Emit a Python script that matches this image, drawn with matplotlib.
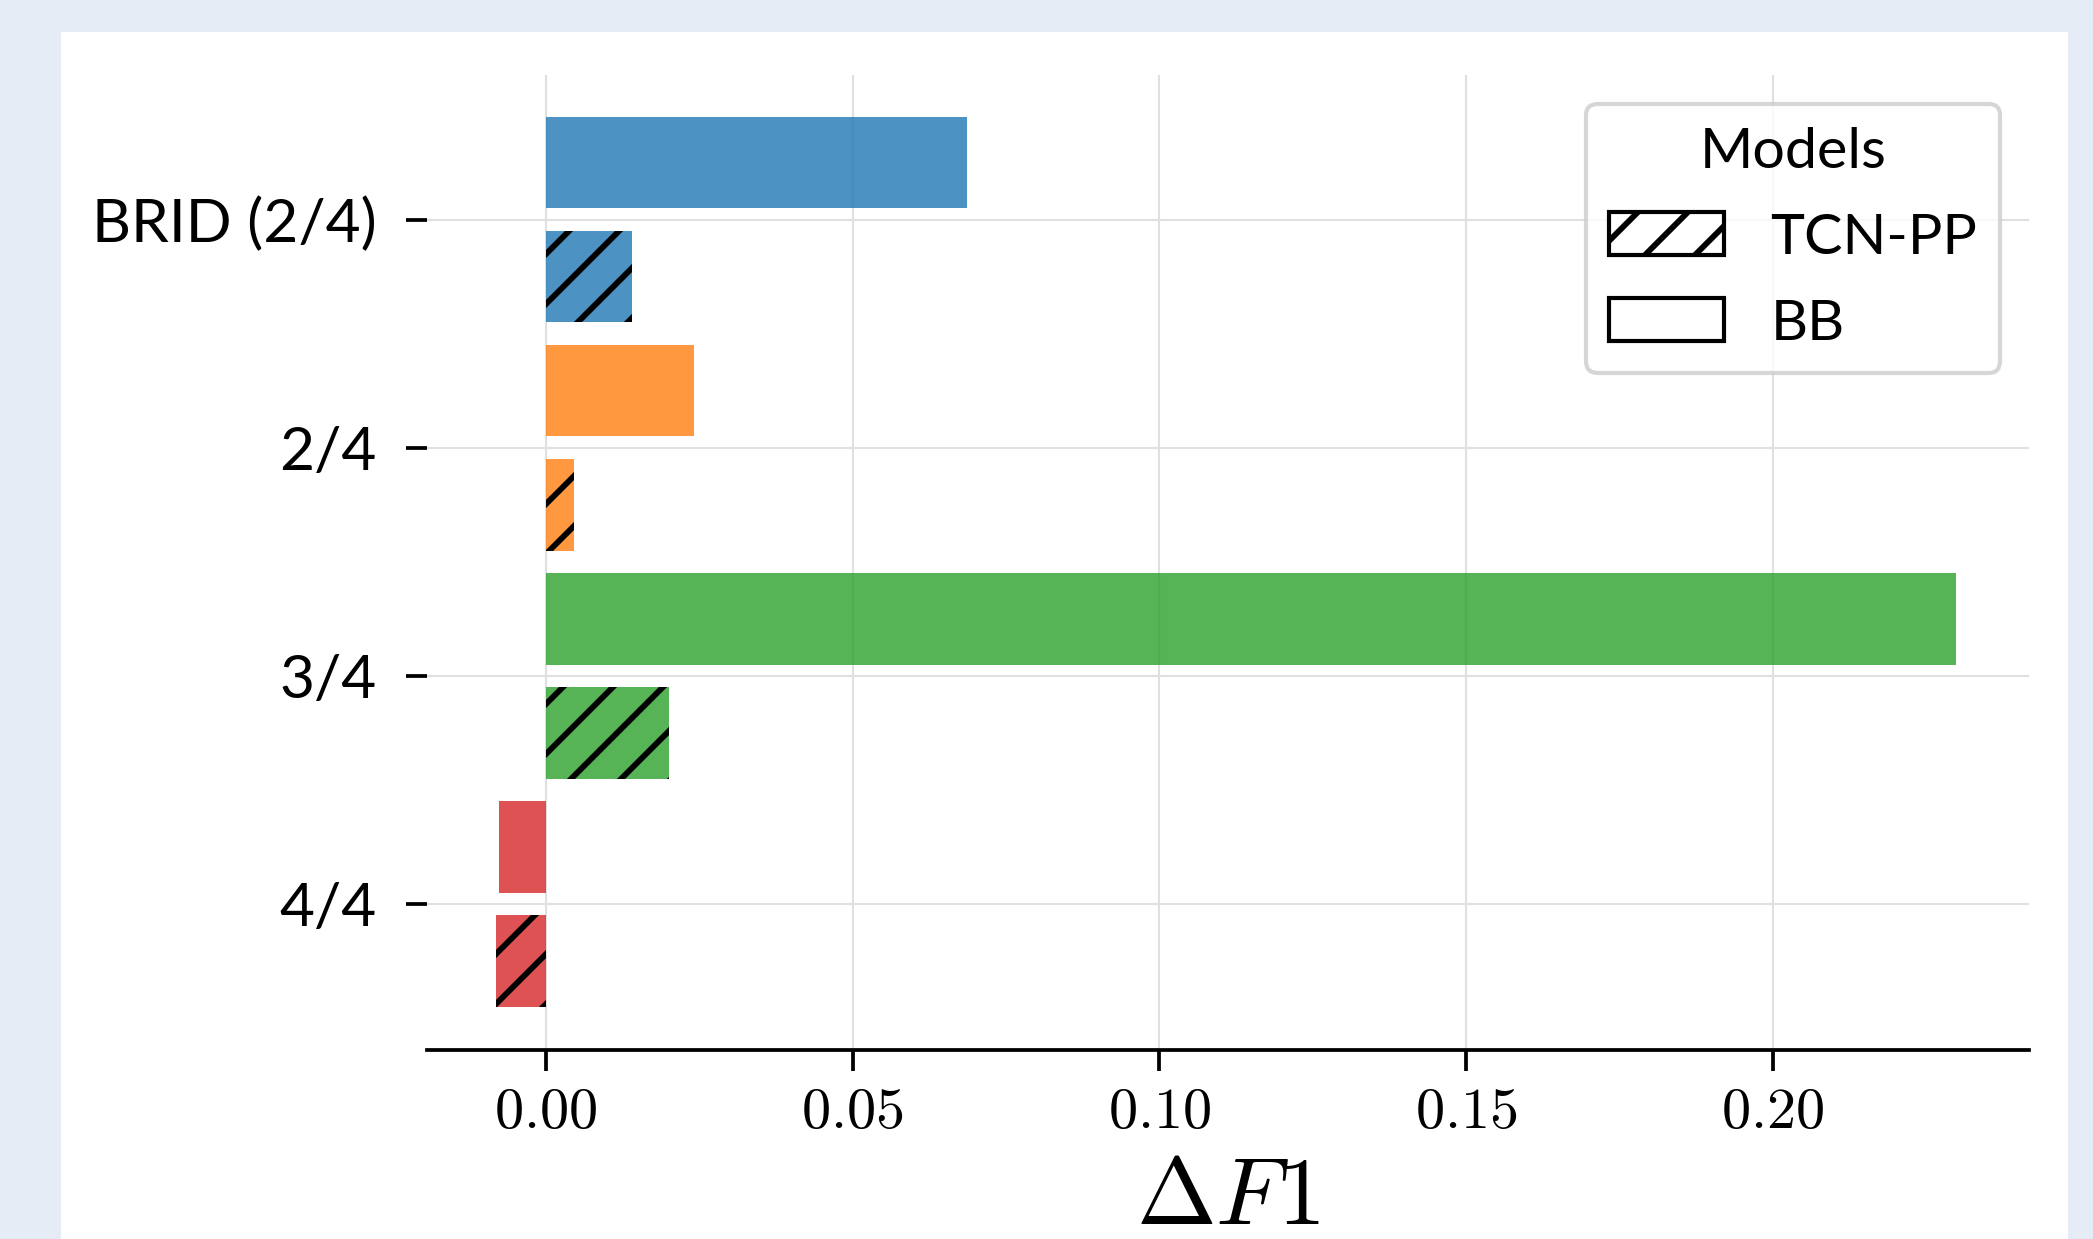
import matplotlib
matplotlib.use("Agg")
import matplotlib.pyplot as plt
from matplotlib.colors import to_rgba
from matplotlib.patches import Patch, Rectangle
from matplotlib.ticker import FormatStrFormatter
import numpy as np

# data
groups = ["BRID (2/4)", "2/4", "3/4", "4/4"]
bb_delta = [0.0686, 0.0241, 0.2299, -0.0076]
tcn_delta = [0.0140, 0.0045, 0.0200, -0.0082]
group_colors = ["tab:blue", "tab:orange", "tab:green", "tab:red"]
xticks = [0.00, 0.05, 0.10, 0.15, 0.20]

plt.rcParams["mathtext.fontset"] = "cm"
plt.rcParams["font.family"] = ["Lato", "DejaVu Sans"]
plt.rcParams["hatch.linewidth"] = 1.4

DPI = 300
fig = plt.figure(figsize=(2093 / DPI, 1239 / DPI), dpi=DPI, facecolor="#e5ecf6")
# white panel behind the plot
fig.patches.append(Rectangle((61 / 2093, 0), (2068 - 61) / 2093, 1 - 32 / 1239,
                             transform=fig.transFigure, facecolor="white",
                             edgecolor="none", zorder=-10))

ax = fig.add_axes([427 / 2093, 1 - 1050 / 1239, (2029 - 427) / 2093, (1050 - 75) / 1239])
ax.set_facecolor("none")

y = np.arange(len(groups))
h = 0.4
for i, c in enumerate(group_colors):
    face = to_rgba(c, 0.8)
    ax.barh(y[i] - 0.25, bb_delta[i], height=h, color=face, edgecolor="none", zorder=2)
    ax.barh(y[i] + 0.25, tcn_delta[i], height=h, facecolor=face, edgecolor="black",
            linewidth=0, hatch="//", zorder=2)

ax.set_ylim(3.64, -0.635)
ax.set_xlim(-0.0194, 0.2418)
ax.set_yticks(y)
ax.set_yticklabels(groups, fontsize=14.5)
ax.set_xticks(xticks)
ax.xaxis.set_major_formatter(FormatStrFormatter(r"$%.2f$"))
ax.tick_params(axis="x", labelsize=14, length=5, width=0.9, pad=3.5)
ax.tick_params(axis="y", length=5, width=0.9, pad=7)

for s in ["top", "right", "left"]:
    ax.spines[s].set_visible(False)
ax.spines["bottom"].set_linewidth(0.9)

ax.set_axisbelow(True)
ax.grid(True, color="#e0e0e0", linewidth=0.5)

ax.set_xlabel(r"$\Delta F1$", fontsize=23, labelpad=3.5)

handles = [Patch(facecolor="white", edgecolor="black", hatch="//", label="TCN-PP"),
           Patch(facecolor="white", edgecolor="black", label="BB")]
ax.legend(handles=handles, title="Models", loc="upper right", fontsize=13.8,
          title_fontsize=13.8, borderaxespad=0.5, handlelength=2.0, handleheight=0.77,
          labelspacing=0.6)

fig.savefig("out.png", dpi=DPI, facecolor=fig.get_facecolor())
